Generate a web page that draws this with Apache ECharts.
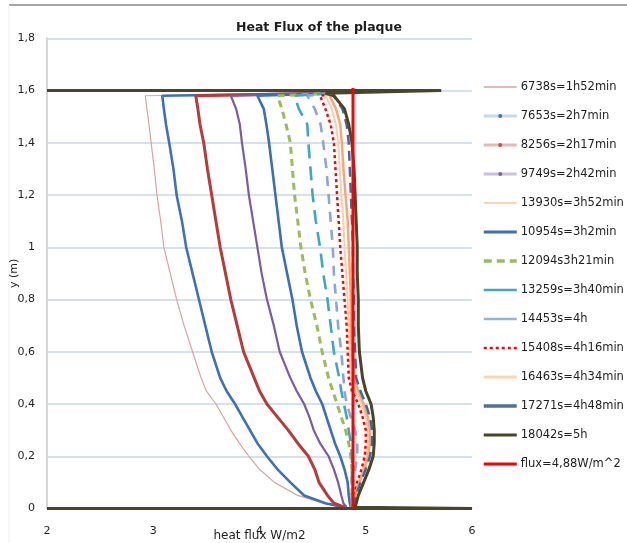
<!DOCTYPE html>
<html>
<head>
<meta charset="utf-8">
<script src="https://cdn.jsdelivr.net/npm/echarts@6/dist/echarts.min.js"></script>
<style>
  html, body { margin: 0; padding: 0; background: #ffffff; }
  #chart { width: 627px; height: 543px; }
</style>
</head>
<body>
<div id="chart"></div>
<script>
// Heights along the plaque (m) at which each heat-flux profile is sampled
const heights = [0.005, 0.02, 0.05, 0.1, 0.15, 0.2, 0.25, 0.3, 0.35, 0.4, 0.45, 0.5, 0.6, 0.7,
                 0.8, 0.9, 1.0, 1.1, 1.2, 1.3, 1.4, 1.47, 1.53, 1.58, 1.59];

// Heat flux (W/m2) at each height, one profile per time step
const flux6738  = [4.76, 4.60, 4.36, 4.14, 4.00, 3.90, 3.81, 3.73, 3.66, 3.59, 3.50, 3.45, 3.37, 3.29,
                   3.22, 3.16, 3.10, 3.07, 3.035, 3.01, 2.98, 2.96, 2.94, 2.925, 4.70];
const flux7653  = [4.80, 4.62, 4.42, 4.29, 4.17, 4.07, 3.98, 3.91, 3.84, 3.77, 3.69, 3.63, 3.55, 3.49,
                   3.43, 3.37, 3.31, 3.27, 3.22, 3.19, 3.15, 3.12, 3.10, 3.085, 4.70];
const flux8256  = [4.80, 4.70, 4.64, 4.56, 4.52, 4.46, 4.36, 4.27, 4.17, 4.07, 4.00, 3.95, 3.85, 3.79,
                   3.73, 3.68, 3.63, 3.59, 3.55, 3.51, 3.475, 3.44, 3.42, 3.40, 4.70];
const flux9749  = [4.82, 4.79, 4.77, 4.74, 4.70, 4.65, 4.57, 4.51, 4.47, 4.42, 4.35, 4.29, 4.19, 4.135,
                   4.07, 4.02, 3.98, 3.94, 3.90, 3.87, 3.835, 3.815, 3.78, 3.73, 4.70];
const flux13930 = [4.88, 4.88, 4.89, 4.93, 4.97, 5.00, 5.02, 5.02, 5.00, 4.96, 4.90, 4.86, 4.85, 4.84,
                   4.83, 4.815, 4.80, 4.79, 4.77, 4.755, 4.74, 4.72, 4.68, 4.62, 4.70];
const flux10954 = [4.86, 4.85, 4.84, 4.83, 4.80, 4.76, 4.71, 4.67, 4.63, 4.59, 4.53, 4.48, 4.40, 4.35,
                   4.31, 4.26, 4.21, 4.18, 4.15, 4.12, 4.09, 4.065, 4.04, 3.98, 4.70];
const flux12094 = [4.87, 4.87, 4.87, 4.87, 4.87, 4.86, 4.84, 4.81, 4.77, 4.73, 4.69, 4.65, 4.59, 4.54,
                   4.48, 4.43, 4.39, 4.36, 4.33, 4.31, 4.29, 4.25, 4.21, 4.17, 4.70];
const flux13259 = [4.87, 4.87, 4.87, 4.87, 4.87, 4.87, 4.86, 4.84, 4.82, 4.795, 4.77, 4.75, 4.70, 4.67,
                   4.64, 4.60, 4.57, 4.53, 4.50, 4.48, 4.46, 4.45, 4.37, 4.33, 4.70];
const flux14453 = [4.87, 4.87, 4.87, 4.88, 4.90, 4.92, 4.92, 4.90, 4.86, 4.82, 4.80, 4.79, 4.77, 4.74,
                   4.72, 4.70, 4.69, 4.67, 4.65, 4.63, 4.60, 4.575, 4.52, 4.45, 4.70];
const flux15408 = [4.88, 4.88, 4.89, 4.92, 4.96, 4.99, 5.00, 5.00, 4.97, 4.93, 4.87, 4.84, 4.83, 4.82,
                   4.80, 4.78, 4.76, 4.745, 4.73, 4.715, 4.70, 4.67, 4.62, 4.57, 4.70];
const flux16463 = [4.89, 4.89, 4.90, 4.94, 4.99, 5.02, 5.04, 5.04, 5.02, 4.98, 4.93, 4.89, 4.87, 4.86,
                   4.86, 4.85, 4.84, 4.83, 4.81, 4.79, 4.775, 4.76, 4.72, 4.66, 4.70];
const flux17271 = [4.89, 4.89, 4.91, 4.95, 5.00, 5.04, 5.06, 5.06, 5.04, 5.00, 4.95, 4.91, 4.90, 4.89,
                   4.89, 4.88, 4.88, 4.87, 4.86, 4.85, 4.84, 4.82, 4.78, 4.70, 4.70];
const flux18042 = [4.90, 4.91, 4.93, 4.98, 5.03, 5.07, 5.08, 5.08, 5.07, 5.05, 5.00, 4.97, 4.94, 4.93,
                   4.93, 4.92, 4.92, 4.91, 4.90, 4.89, 4.87, 4.84, 4.80, 4.70, 4.62];

// Plaque edges traced by the last profile (bottom edge before, top edge after)
const plateBottom = [[2, 0], [6, 0]];
const plateTop = [[5.71, 1.6], [2, 1.6]];

// Reference flux level
const refFlux = 4.88;
const refHeights = [0, 1.61];

// Axis ticks
const xTicks = [2, 3, 4, 5, 6];
const yMax = 1.8;
const yStep = 0.2;

function profile(xs) {
  return xs.map((x, i) => [x, heights[i]]);
}

const FONT = 'DejaVu Sans';
const TEXT = '#1f1f1f';

function lineSeries(name, data, style, extra) {
  return Object.assign({
    name: name,
    type: 'line',
    data: data,
    symbol: 'none',
    showSymbol: false,
    smooth: false,
    lineStyle: style,
    z: 2
  }, extra || {});
}

const series = [
  lineSeries('6738s=1h52min', profile(flux6738), { color: '#d9a3a0', width: 1.2 }),
  lineSeries('7653s=2h7min', profile(flux7653), { color: '#3d72b8', width: 2.6 }),
  lineSeries('8256s=2h17min', profile(flux8256), { color: '#b83a3a', width: 3 }),
  lineSeries('9749s=2h42min', profile(flux9749), { color: '#7b5ba1', width: 2.2 }),
  lineSeries('13930s=3h52min', profile(flux13930), { color: '#fbcfab', width: 2 }),
  lineSeries('10954s=3h2min', profile(flux10954), { color: '#3a70b5', width: 2.6 }),
  lineSeries('12094s3h21min', profile(flux12094), { color: '#9bbb59', width: 3, type: [7, 5] }),
  lineSeries('13259s=3h40min', profile(flux13259), { color: '#3fa6c4', width: 2.6, type: [14, 8] }),
  lineSeries('14453s=4h', profile(flux14453), { color: '#8aa6d6', width: 2.6, type: [10, 8] }),
  lineSeries('15408s=4h16min', profile(flux15408), { color: '#ff0000', width: 2.5, type: [3, 3] }),
  lineSeries('16463s=4h34min', profile(flux16463), { color: '#f5a875', width: 2.5 }),
  lineSeries('17271s=4h48min', profile(flux17271), { color: '#3e68a8', width: 2.5, type: [10, 6] }),
  lineSeries('18042s=5h', plateBottom.concat(profile(flux18042), plateTop), { color: '#4a4528', width: 3 }),
  lineSeries('flux=4,88W/m^2', refHeights.map(h => [refFlux, h]), { color: '#ff0000', width: 3 }, { z: 3 })
];

// Legend samples: marker dots only on the three marked profiles
const markerOn = (color) => ({ color: color, opacity: 1, borderWidth: 0 });
const legendData = [
  { name: '6738s=1h52min', lineStyle: { color: '#d9a3a0', width: 1.5 } },
  { name: '7653s=2h7min', lineStyle: { color: '#c6d9f0', width: 3 }, itemStyle: markerOn('#3d72b8') },
  { name: '8256s=2h17min', lineStyle: { color: '#e6b9b8', width: 3 }, itemStyle: markerOn('#c0504d') },
  { name: '9749s=2h42min', lineStyle: { color: '#ccc0da', width: 3 }, itemStyle: markerOn('#8064a2') },
  { name: '13930s=3h52min', lineStyle: { color: '#fbd4b4', width: 2 } },
  { name: '10954s=3h2min', lineStyle: { color: '#3a70b5', width: 3 } },
  { name: '12094s3h21min', lineStyle: { color: '#9bbb59', width: 3.5, type: [8, 5] } },
  { name: '13259s=3h40min', lineStyle: { color: '#3fa6c4', width: 2.5, type: 'solid' } },
  { name: '14453s=4h', lineStyle: { color: '#95b3d7', width: 2.5, type: 'solid' } },
  { name: '15408s=4h16min', lineStyle: { color: '#ff0000', width: 2.5, type: [3, 3] } },
  { name: '16463s=4h34min', lineStyle: { color: '#fcd5b4', width: 3 } },
  { name: '17271s=4h48min', lineStyle: { color: '#4f6fa0', width: 3.5, type: 'solid' } },
  { name: '18042s=5h', lineStyle: { color: '#4a4528', width: 3 } },
  { name: 'flux=4,88W/m^2', lineStyle: { color: '#ff0000', width: 3 } }
];

const chart = echarts.init(document.getElementById('chart'), null, { renderer: 'canvas' });

chart.setOption({
  animation: false,
  backgroundColor: '#ffffff',
  textStyle: { fontFamily: FONT },
  title: {
    text: 'Heat Flux of the plaque',
    left: 231,
    top: 16,
    textStyle: { fontFamily: FONT, fontSize: 12.5, fontWeight: 'bold', color: TEXT }
  },
  graphic: [
    { type: 'line', shape: { x1: 9, y1: 5, x2: 627, y2: 5 }, style: { stroke: '#a6a6a6', lineWidth: 2 }, silent: true },
    { type: 'line', shape: { x1: 9, y1: 5, x2: 9, y2: 543 }, style: { stroke: '#efefef', lineWidth: 1 }, silent: true }
  ],
  grid: { left: 47, right: 155, top: 38.3, bottom: 34.5, containLabel: false, outerBoundsMode: 'none' },
  legend: {
    orient: 'vertical',
    left: 482,
    top: 81,
    padding: 0,
    itemWidth: 33,
    itemHeight: 5,
    itemGap: 17,
    selectedMode: false,
    itemStyle: { opacity: 0 },
    data: legendData,
    textStyle: { fontFamily: FONT, fontSize: 11.5, color: TEXT, padding: [0, 0, 0, -1] }
  },
  xAxis: {
    type: 'value',
    min: xTicks[0],
    max: xTicks[xTicks.length - 1],
    interval: 1,
    name: 'heat flux W/m2',
    nameLocation: 'middle',
    nameGap: 21,
    nameMoveOverlap: false,
    nameTextStyle: { fontFamily: FONT, fontSize: 12, color: TEXT },
    axisLine: { show: true, lineStyle: { color: '#bfbfbf', width: 1 } },
    axisTick: { show: false },
    axisLabel: { margin: 17, fontFamily: FONT, fontSize: 11, color: TEXT },
    splitLine: { show: false }
  },
  yAxis: {
    type: 'value',
    min: 0,
    max: yMax,
    interval: yStep,
    name: 'y (m)',
    nameLocation: 'middle',
    nameGap: 27,
    nameMoveOverlap: false,
    nameTextStyle: { fontFamily: FONT, fontSize: 11, color: TEXT },
    axisLine: { show: true, lineStyle: { color: '#d6d6d6', width: 2 } },
    axisTick: { show: false },
    axisLabel: {
      margin: 12,
      fontFamily: FONT,
      fontSize: 11,
      color: TEXT,
      formatter: v => String(Math.round(v * 10) / 10).replace('.', ',')
    },
    splitLine: { show: true, lineStyle: { color: '#c8d7eb', width: 1.6 } }
  },
  series: series
});
</script>
</body>
</html>
